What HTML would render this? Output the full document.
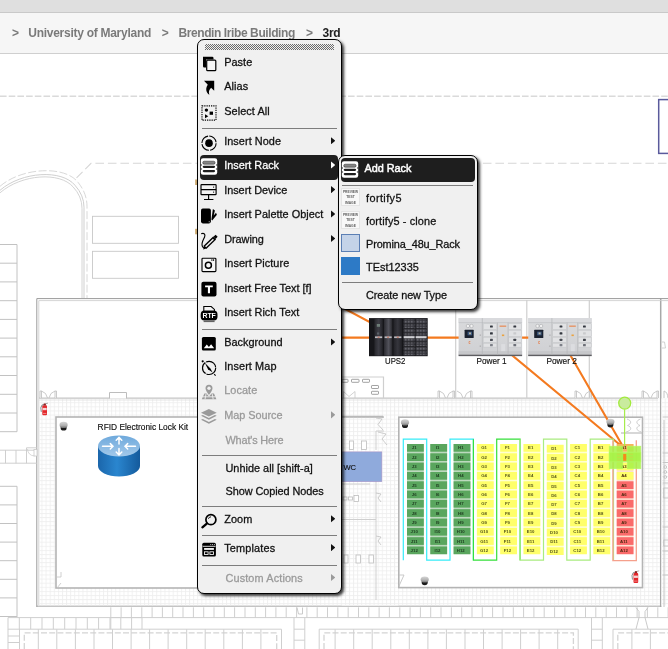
<!DOCTYPE html>
<html>
<head>
<meta charset="utf-8">
<title>3rd</title>
<style>
html,body{margin:0;padding:0;}
body{width:668px;height:649px;overflow:hidden;position:relative;background:#fff;font-family:"Liberation Sans",sans-serif;}
#topbar{position:absolute;left:0;top:0;width:668px;height:13px;background:#dfdfdf;border-bottom:1px solid #c9c9c9;box-sizing:border-box;}
#crumbs{position:absolute;left:0;top:13px;width:668px;height:41px;background:#f6f6f6;border-bottom:1px solid #cfcfcf;box-sizing:border-box;}
#crumbs{will-change:transform;}
#crumbs span{position:absolute;top:13.2px;font-weight:bold;font-size:12px;line-height:15px;color:#7a7a7a;white-space:nowrap;}
#crumbs span.cur{color:#222;}
#canvas{position:absolute;left:0;top:54px;width:668px;height:595px;will-change:transform;}
.menu{position:absolute;background:#f0f0f0;border:1px solid #000;border-radius:7px;box-sizing:border-box;box-shadow:2px 2px 3px rgba(0,0,0,0.78);font-size:10.9px;color:#111;will-change:transform;}
.mi{position:absolute;left:2px;right:3px;height:24.45px;border-radius:4px;}
.mi .t{position:absolute;left:23px;top:2.85px;line-height:14px;white-space:nowrap;-webkit-text-stroke:0.28px currentColor;}
.mi.dis{color:#9a9a9a;}
.mi.hl{background:#1e1e1e;color:#fff;}
.mi .ar{position:absolute;right:2.7px;top:5.9px;width:4.6px;height:7.6px;background:currentColor;clip-path:polygon(0 0,100% 50%,0 100%);}
.mi svg{position:absolute;left:0.45px;top:2.8px;width:18px;height:18px;overflow:visible;}
.sep{position:absolute;left:4px;right:4px;height:1px;background:#7d7d7d;}

.grip{position:absolute;left:7px;top:4px;width:129px;height:6px;background-image:linear-gradient(45deg,#4a4a4a 25%,transparent 25%,transparent 75%,#4a4a4a 75%),linear-gradient(45deg,#4a4a4a 25%,transparent 25%,transparent 75%,#4a4a4a 75%);background-size:2px 2px;background-position:0 0,1px 1px;opacity:0.8;}
.thumb{position:absolute;left:0.3px;top:0.6px;width:18.4px;height:18.2px;background:#f8f8f8;border:1px solid #e4e4e4;box-sizing:border-box;text-align:center;font-size:3.3px;line-height:5.5px;color:#606060;padding-top:0.6px;overflow:hidden;font-weight:bold;}
.thumb span{display:block;}
.sq{position:absolute;left:0.3px;top:0.6px;width:18.4px;height:18.2px;box-sizing:border-box;}

</style>
</head>
<body>
<div id="topbar"></div>
<div id="crumbs"><span style="left:11.9px;letter-spacing:-0.508px">&gt;</span><span style="left:28.3px;letter-spacing:-0.273px">University of Maryland</span><span style="left:161.7px;letter-spacing:-0.208px">&gt;</span><span style="left:178.4px;letter-spacing:-0.401px">Brendin Iribe Building</span><span style="left:306.1px;letter-spacing:-0.508px">&gt;</span><span class=cur style="left:322.6px;letter-spacing:-0.291px">3rd</span></div>
<svg id="canvas" viewBox="0 54 668 595" font-family="Liberation Sans, sans-serif">
<defs>
<pattern id="grid" x="37.4" y="398.2" width="4.1" height="4.1" patternUnits="userSpaceOnUse"><path d="M0.5,0 V4.1 M0,0.5 H4.1" stroke="#eeeeee" stroke-width="0.8" fill="none"/></pattern>
<linearGradient id="rb" x1="0" x2="1" y1="0" y2="0"><stop offset="0" stop-color="#1b66ab"/><stop offset="0.45" stop-color="#2a86cf"/><stop offset="1" stop-color="#145a9c"/></linearGradient>
<linearGradient id="rt" x1="0" x2="0" y1="0" y2="1"><stop offset="0" stop-color="#6ea9dc"/><stop offset="1" stop-color="#a3c9ea"/></linearGradient>
<linearGradient id="ups" x1="0" x2="0" y1="0" y2="1"><stop offset="0" stop-color="#15151b"/><stop offset="0.5" stop-color="#34343c"/><stop offset="1" stop-color="#1c1c22"/></linearGradient>
<linearGradient id="pw" x1="0" x2="0" y1="0" y2="1"><stop offset="0" stop-color="#d9dadc"/><stop offset="1" stop-color="#cfd0d3"/></linearGradient>
<linearGradient id="camg" x1="0" x2="0" y1="0" y2="1"><stop offset="0" stop-color="#d6d6d6"/><stop offset="0.6" stop-color="#b0b0b0"/><stop offset="1" stop-color="#6e6e6e"/></linearGradient>
<linearGradient id="u1" x1="0" x2="1" y1="0" y2="0"><stop offset="0" stop-color="#26262b"/><stop offset="0.5" stop-color="#3d3d45"/><stop offset="1" stop-color="#222227"/></linearGradient>
<linearGradient id="u2" x1="0" x2="1" y1="0" y2="0"><stop offset="0" stop-color="#2a2a30"/><stop offset="0.55" stop-color="#52525b"/><stop offset="1" stop-color="#27272c"/></linearGradient>
<linearGradient id="u3" x1="0" x2="1" y1="0" y2="0"><stop offset="0" stop-color="#222227"/><stop offset="0.5" stop-color="#36363d"/><stop offset="1" stop-color="#1f1f24"/></linearGradient>
<pattern id="mesh" x="0" y="0" width="1.5" height="1.5" patternUnits="userSpaceOnUse"><rect x="0" y="0" width="0.8" height="0.8" fill="#76767e"/></pattern>
</defs>
<rect x="0" y="54" width="668" height="595" fill="#fff"/>
<path d="M0,96.2 H668" stroke="#dadada" stroke-width="1.6" stroke-dasharray="6.6,2.1" fill="none"/>
<path d="M666.5,163.3 H91 L75,179.5" stroke="#d6d6d6" stroke-width="1.1" stroke-dasharray="8.6,3.9" fill="none"/>
<rect x="658.7" y="99.6" width="14" height="53.8" fill="#fff" stroke="#5a5a9c" stroke-width="1.5"/>
<path d="M0,190.3 C22,171.3 62,169.3 75,185.3 Q84,195.3 84,207.3 V298" fill="none" stroke="#c9c9c9" stroke-width="0.9"/>
<path d="M0,192.8 C22,173.8 60,171.8 73,186.8 Q82,196.3 82,208.3 V298" fill="none" stroke="#cfcfcf" stroke-width="0.9"/>
<path d="M0,186.3 C22,167.3 65,165.3 78,182.3 Q87,193.3 87,206.3 V298" fill="none" stroke="#d4d4d4" stroke-width="0.9" stroke-dasharray="8,2.5"/>
<rect x="92.5" y="216.3" width="86" height="27" fill="none" stroke="#c8c8c8" stroke-width="0.9"/>
<rect x="92.5" y="251.3" width="86" height="27" fill="none" stroke="#c8c8c8" stroke-width="0.9"/>
<path d="M17,244.5 V431.7 M0,244.5 H17 M0,263.2 H17 M0,281.9 H17 M0,300.7 H17 M0,319.4 H17 M0,338.1 H17 M0,356.8 H17 M0,375.5 H17 M0,394.3 H17 M0,413.0 H17 M0,431.7 H17" fill="none" stroke="#c2c2c2" stroke-width="1"/>
<path d="M17,486.3 V617 M0,486.3 H17 M0,504.9 H17 M0,523.5 H17 M0,542.1 H17 M0,560.7 H17 M0,579.3 H17 M0,597.9 H17 M0,616.5 H17" fill="none" stroke="#c2c2c2" stroke-width="1"/>
<rect x="36.8" y="298.6" width="623.9" height="307.6" fill="#fff"/>
<path d="M36.8,606.2 H660.7" fill="none" stroke="#c4c4c4" stroke-width="1.6"/>
<path d="M660.7,607 V298.6" fill="none" stroke="#a8a8a8" stroke-width="1.5"/>
<path d="M36.8,607 V298.6 H668" fill="none" stroke="#9a9a9a" stroke-width="1"/>
<path d="M660,300.6 H668 M662,342 h2.5 l1,6 h-3.5" fill="none" stroke="#cdcdcd" stroke-width="0.9"/>
<path d="M38.8,605 V300.6 H660" fill="none" stroke="#d0d0d0" stroke-width="0.9"/>
<rect x="39.5" y="398.6" width="620.4" height="206.8" fill="url(#grid)"/>
<path d="M39,398.2 H658" stroke="#c6c6c6" stroke-width="1.2" fill="none"/>
<path d="M39,400 H658" stroke="#e0e0e0" stroke-width="0.8" fill="none"/>
<path d="M455.7,300 V398 M526.8,300 V398 M589.3,300 V398" stroke="#cfcfcf" stroke-width="1.2" fill="none"/>
<path d="M109.5,398.5 V392.5 H126.5 V398.5" stroke="#bdbdbd" stroke-width="1" fill="#fff"/>
<path d="M342,377 H383.5 V398" stroke="#cfcfcf" stroke-width="1.2" fill="none"/>
<g fill="#fff" stroke="#8c8c8c" stroke-width="0.8"><rect x="342" y="379.3" width="6" height="3" rx="0.6"/><rect x="351.5" y="379.3" width="7.5" height="3" rx="0.6"/><rect x="362.5" y="379.3" width="7" height="3" rx="0.6"/><rect x="371.5" y="385.5" width="7" height="3" rx="0.6"/><rect x="371.5" y="391.3" width="7" height="3" rx="0.6"/></g>
<path d="M343.5,398 V391.5 L349,396.5 L355,391.5 V398" stroke="#c8c8c8" stroke-width="0.8" fill="none"/>
<path d="M40,398 v-7 h1.5 v7 M41.5,391 q5,1.5 6,7 M56.5,398 v-7 h-1.5 v7 M55,391 q-5,1.5 -6,7" stroke="#bdbdbd" stroke-width="0.8" fill="#fff"/>
<path d="M438,398 v-7 h1.5 v7 M439.5,391 q5,1.5 6,7 M454.5,398 v-7 h-1.5 v7 M453,391 q-5,1.5 -6,7" stroke="#bdbdbd" stroke-width="0.8" fill="#fff"/>
<path d="M575,398 v-7 h1.5 v7 M576.5,391 q5,1.5 6,7 M591.5,398 v-7 h-1.5 v7 M590,391 q-5,1.5 -6,7" stroke="#bdbdbd" stroke-width="0.8" fill="#fff"/>
<path d="M642,398 v-7 h1.5 v7 M643.5,391 q5,1.5 6,7 M658.5,398 v-7 h-1.5 v7 M657,391 q-5,1.5 -6,7" stroke="#bdbdbd" stroke-width="0.8" fill="#fff"/>
<path d="M472,398 v-7 h-1.5 v7 M470.5,391 q-5,1.5 -6,7 M457,391 q5,1.5 6,7" stroke="#bdbdbd" stroke-width="0.8" fill="none"/>
<rect x="56" y="417" width="327" height="171" fill="#fff" stroke="#b4b4b4" stroke-width="1.6"/>
<path d="M57,577 h4 v-5 M57,588 L61,583" stroke="#c4c4c4" stroke-width="0.8" fill="none"/>
<rect x="342" y="417.9" width="56" height="187.5" fill="#fff"/>
<rect x="342" y="417.9" width="56" height="187.5" fill="url(#grid)"/>
<path d="M342,416.6 H383" stroke="#b9b9b9" stroke-width="1.5" fill="none"/>
<path d="M376,431 V450 M376,431 H384 M342,453.5 H370 M342,484 H370 M342,519.5 H376 M376,470 V600" stroke="#cfcfcf" stroke-width="1" fill="none"/>
<rect x="340" y="451.9" width="41.8" height="29.7" fill="#8faadc" stroke="#a592c6" stroke-width="0.6"/>
<text x="343.4" y="469.6" font-size="8.1" fill="#111" stroke="#111" stroke-width="0.15" textLength="12.6" lengthAdjust="spacingAndGlyphs">WC</text>
<path d="M376,418 l6,1 l-4,5.5 l5,5.5 M378,432 l8,2 l-4,5 l5,6 M376,493 l5,1 l-3,4 l3,4 M376,536 l5,1 l-3,4 l3,4" stroke="#c2c2c2" stroke-width="0.8" fill="none"/>
<g fill="#fff" stroke="#bdbdbd" stroke-width="0.8"><rect x="349.5" y="441" width="4" height="8.5"/><rect x="361.5" y="441" width="5" height="8.5"/><rect x="343" y="497" width="4" height="3"/><rect x="348.5" y="497" width="4" height="3"/><rect x="354" y="495.5" width="4.5" height="6"/><rect x="344" y="555" width="4" height="8"/><rect x="356" y="555" width="4.5" height="8"/><rect x="369" y="555" width="4.5" height="8"/></g>
<rect x="398.8" y="417.2" width="243.7" height="170.4" fill="#fff" stroke="#b4b4b4" stroke-width="1.6"/>
<path d="M399,575 h5 l-5,11" stroke="#c4c4c4" stroke-width="0.9" fill="none"/>
<path d="M621,433 H642" stroke="#c2c2c2" stroke-width="1.3" fill="none"/>
<path d="M627,419 c4.5,1.5 5,4.5 0.5,6.5 c4.5,1.5 4.5,5 -1.5,6.5 M640.5,419 c-4.5,1.5 -5,4.5 -0.5,6.5 c-4.5,1.5 -4.5,5 1.5,6.5" stroke="#c8c8c8" stroke-width="0.9" fill="none"/>
<rect x="661.5" y="398.6" width="8" height="207" fill="#fff"/><rect x="661.5" y="398.6" width="8" height="207" fill="url(#grid)"/>
<path d="M664,420 V607 M662.6,417 h6 M662.6,453 h6 M662.6,462.5 h6 M662.6,483 h6 M662.6,527 h6 M662.6,551 h6 M662.6,575 h6 M664,391 v7 M664,391 q3.5,1 4,7" stroke="#c6c6c6" stroke-width="1" fill="none"/>
<g fill="none" stroke="#b8b8b8" stroke-width="0.7"><circle cx="665.3" cy="467" r="1.4"/><circle cx="665.3" cy="472" r="1.4"/><circle cx="665.3" cy="477" r="1.4"/><rect x="663.8" y="488" width="4.5" height="10"/><rect x="663.8" y="540" width="4.5" height="6"/></g>
<path d="M8,617.6 H142 M8,629.2 H281.5 M319.2,629.2 H578.2 M613,629.2 H668 M110.8,607.3 V629.2 M110.8,617.6 H668 M120.8,617.6 V629.2 M131.6,617.6 V629.2 M142,617.6 V629.2 M8.0,617.6 V629.2 M19.3,617.6 V629.2 M30.7,617.6 V629.2 M42.0,617.6 V629.2 M53.3,617.6 V629.2 M64.7,617.6 V629.2 M76.0,617.6 V629.2 M87.3,617.6 V629.2 M98.6,617.6 V629.2 M110.0,617.6 V629.2 M121.1,607.3 V617.6 M131.4,607.3 V617.6 M141.8,607.3 V617.6 M152.1,607.3 V617.6 M162.4,607.3 V617.6 M172.7,607.3 V617.6 M183.0,607.3 V617.6 M193.4,607.3 V617.6 M203.7,607.3 V617.6 M214.0,607.3 V617.6 M224.3,607.3 V617.6 M234.6,607.3 V617.6 M245.0,607.3 V617.6 M255.3,607.3 V617.6 M265.6,607.3 V617.6 M275.9,607.3 V617.6 M286.2,607.3 V617.6 M296.6,607.3 V617.6 M306.9,607.3 V617.6 M317.2,607.3 V617.6 M327.5,607.3 V617.6 M337.8,607.3 V617.6 M348.2,607.3 V617.6 M358.5,607.3 V617.6 M368.8,607.3 V617.6 M379.1,607.3 V617.6 M389.4,607.3 V617.6 M399.8,607.3 V617.6 M410.1,607.3 V617.6 M420.4,607.3 V617.6 M430.7,607.3 V617.6 M441.0,607.3 V617.6 M451.4,607.3 V617.6 M461.7,607.3 V617.6 M472.0,607.3 V617.6 M482.3,607.3 V617.6 M492.6,607.3 V617.6 M503.0,607.3 V617.6 M513.3,607.3 V617.6 M523.6,607.3 V617.6 M533.9,607.3 V617.6 M544.2,607.3 V617.6 M554.6,607.3 V617.6 M564.9,607.3 V617.6 M575.2,607.3 V617.6 M585.5,607.3 V617.6 M595.8,607.3 V617.6 M606.2,607.3 V617.6 M616.5,607.3 V617.6 M626.8,607.3 V617.6 M637.1,607.3 V617.6 M647.4,607.3 V617.6 M657.8,607.3 V617.6 M668.1,607.3 V617.6" fill="none" stroke="#cfcfcf" stroke-width="1"/>
<path d="M8,629 V649 M19.5,629 V649 M8,636 H19.5 M8,642.5 H19.5" fill="none" stroke="#cfcfcf" stroke-width="1"/>
<path d="M19.5,649 V629.2 M281.5,629.2 V649" fill="none" stroke="#cfcfcf" stroke-width="1"/>
<path d="M24.3,649 V632.9 H276.7 V649" fill="none" stroke="#d4d4d4" stroke-width="1.3" stroke-dasharray="6,2.2"/>
<path d="M319.2,649 V629.2 M578.2,629.2 V649" fill="none" stroke="#cfcfcf" stroke-width="1"/>
<path d="M324.0,649 V632.9 H573.4000000000001 V649" fill="none" stroke="#d4d4d4" stroke-width="1.3" stroke-dasharray="6,2.2"/>
<path d="M613,649 V629.2 M680,629.2 V649" fill="none" stroke="#cfcfcf" stroke-width="1"/>
<path d="M617.8,649 V632.9 H675.2 V649" fill="none" stroke="#d4d4d4" stroke-width="1.3" stroke-dasharray="6,2.2"/>
<path d="M38.3,629.2 V649 M56.8,629.2 V649 M75.4,629.2 V649 M94.0,629.2 V649 M112.5,629.2 V649 M131.1,629.2 V649 M149.6,629.2 V649 M168.1,629.2 V649 M186.7,629.2 V649 M205.2,629.2 V649 M223.8,629.2 V649 M242.4,629.2 V649 M260.9,629.2 V649 M335.1,629.2 V649 M353.7,629.2 V649 M372.2,629.2 V649 M390.8,629.2 V649 M409.3,629.2 V649 M427.9,629.2 V649 M446.4,629.2 V649 M465.0,629.2 V649 M483.5,629.2 V649 M502.1,629.2 V649 M520.6,629.2 V649 M539.1,629.2 V649 M557.7,629.2 V649 M631.9,629.2 V649 M650.4,629.2 V649" fill="none" stroke="#cfcfcf" stroke-width="1"/>
<path d="M294,617.6 V649 M304.8,617.6 V649 M294,629.2 H304.8 M294,640.2 H304.8" fill="none" stroke="#cfcfcf" stroke-width="1"/>
<path d="M591.5,617.6 V649 M602.3,617.6 V649 M591.5,629.2 H602.3 M591.5,640.2 H602.3" fill="none" stroke="#cfcfcf" stroke-width="1"/>
<path d="M297,607.5 l1.5,6.5 h4 v-6.5 M636,607.5 l3,4 v6 l-3,11.5 M648,607.5 l-3,4 v6 l3,11.5" fill="none" stroke="#c4c4c4" stroke-width="0.9"/>
<path d="M0,450.2 H37 M0,463.2 H37 M5.5,450.2 V463.2 M16,450.2 V463.2 M26.5,447.8 V463.2 M26.5,447.8 H37" stroke="#cacaca" stroke-width="0.9" fill="none"/><path d="M27.5,449 q0.5,6.5 7,7" stroke="#cfcfcf" stroke-width="0.8" fill="none"/><rect x="34" y="449.5" width="3" height="6.5" fill="#fff" stroke="#c4c4c4" stroke-width="0.7"/>
<rect x="195.2" y="179.5" width="1.7" height="5.5" fill="#c9a262"/><rect x="195.2" y="228.8" width="1.7" height="5.5" fill="#c9a262"/>
<g transform="translate(44.6,410.3)"><rect x="-2.3" y="-5" width="4.7" height="10" rx="1.1" fill="#e3262a"/><rect x="-2" y="-2.4" width="4.1" height="2.3" fill="#f6d2d2"/><rect x="-1.7" y="2.6" width="3.5" height="1" fill="#f08a8a"/><path d="M0.6,-6.2 Q-3.6,-6.2 -3.8,-2.4 L-3.3,1.6" fill="none" stroke="#5a5a5a" stroke-width="0.7"/><rect x="-0.9" y="-6.8" width="2.2" height="1.9" fill="#8e2222"/><path d="M1.2,-6.6 L3.4,-7.2" stroke="#777" stroke-width="0.6"/></g>
<g transform="translate(635.8,578)"><rect x="-2.3" y="-5" width="4.7" height="10" rx="1.1" fill="#e3262a"/><rect x="-2" y="-2.4" width="4.1" height="2.3" fill="#f6d2d2"/><rect x="-1.7" y="2.6" width="3.5" height="1" fill="#f08a8a"/><path d="M0.6,-6.2 Q-3.6,-6.2 -3.8,-2.4 L-3.3,1.6" fill="none" stroke="#5a5a5a" stroke-width="0.7"/><rect x="-0.9" y="-6.8" width="2.2" height="1.9" fill="#8e2222"/><path d="M1.2,-6.6 L3.4,-7.2" stroke="#777" stroke-width="0.6"/></g>
<g><path d="M98,446 V466 A21,10.6 0 0 0 140,466 V446 Z" fill="url(#rb)"/><ellipse cx="119" cy="446" rx="21" ry="10.6" fill="url(#rt)"/><g stroke="#fff" stroke-width="1.5" fill="none" stroke-linecap="round"><path d="M102.5,446.3 H112.5 M110.3,443.6 L113,446.3 L110.3,449 M135.5,446.3 H125.5 M127.7,443.6 L125,446.3 L127.7,449 M119,444 V437.6 M116.2,440.3 L119,437.4 L121.8,440.3 M119,448.4 V454.8 M116.2,452 L119,455 L121.8,452"/></g></g>
<text x="97.6" y="429.8" font-size="8.3" fill="#111" textLength="90.6" lengthAdjust="spacingAndGlyphs" stroke="#111" stroke-width="0.15">RFID Electronic Lock Kit</text>
<g stroke="#f47a1f" stroke-width="2.1" fill="none"><path d="M336,337.6 H560 M330,300.9 L398.2,337.3 M490.5,337.3 L623.8,448 M560,337.3 L623.8,448"/></g>
<g transform="translate(63.6,426.2)"><ellipse cx="0" cy="1.7" rx="3" ry="2.7" fill="#1c1c1c"/><ellipse cx="0" cy="-1.3" rx="4.1" ry="3.1" fill="url(#camg)"/></g>
<g transform="translate(405,423.7)"><ellipse cx="0" cy="1.7" rx="3" ry="2.7" fill="#1c1c1c"/><ellipse cx="0" cy="-1.3" rx="4.1" ry="3.1" fill="url(#camg)"/></g>
<g transform="translate(610.4,423.1)"><ellipse cx="0" cy="1.7" rx="3" ry="2.7" fill="#1c1c1c"/><ellipse cx="0" cy="-1.3" rx="4.1" ry="3.1" fill="url(#camg)"/></g>
<g transform="translate(424.7,580.8)"><ellipse cx="0" cy="1.7" rx="3" ry="2.7" fill="#1c1c1c"/><ellipse cx="0" cy="-1.3" rx="4.1" ry="3.1" fill="url(#camg)"/></g>
<g>
<rect x="369" y="318.1" width="58.7" height="38.1" fill="#16161a"/>
<rect x="374.4" y="318.6" width="8.4" height="37" fill="url(#u1)"/>
<rect x="384.0" y="318.6" width="8.3" height="37" fill="url(#u2)"/>
<rect x="393.5" y="318.6" width="8.5" height="37" fill="url(#u3)"/>
<rect x="403.7" y="318.6" width="10.8" height="37" fill="#34343a"/>
<rect x="403.7" y="319.4" width="10.8" height="35.6" fill="url(#mesh)"/>
<rect x="403.7" y="323.5" width="10.8" height="0.8" fill="#1e1e22"/>
<rect x="403.7" y="328" width="10.8" height="0.8" fill="#1e1e22"/>
<rect x="403.7" y="332.5" width="10.8" height="0.8" fill="#1e1e22"/>
<rect x="403.7" y="341.5" width="10.8" height="0.8" fill="#1e1e22"/>
<rect x="403.7" y="346" width="10.8" height="0.8" fill="#1e1e22"/>
<rect x="403.7" y="350.5" width="10.8" height="0.8" fill="#1e1e22"/>
<rect x="403.7" y="336.2" width="10.8" height="2" fill="#cfcfd3"/>
<rect x="415.7" y="318.6" width="10.8" height="37" fill="#34343a"/>
<rect x="415.7" y="319.4" width="10.8" height="35.6" fill="url(#mesh)"/>
<rect x="415.7" y="323.5" width="10.8" height="0.8" fill="#1e1e22"/>
<rect x="415.7" y="328" width="10.8" height="0.8" fill="#1e1e22"/>
<rect x="415.7" y="332.5" width="10.8" height="0.8" fill="#1e1e22"/>
<rect x="415.7" y="341.5" width="10.8" height="0.8" fill="#1e1e22"/>
<rect x="415.7" y="346" width="10.8" height="0.8" fill="#1e1e22"/>
<rect x="415.7" y="350.5" width="10.8" height="0.8" fill="#1e1e22"/>
<rect x="415.7" y="336.2" width="10.8" height="2" fill="#cfcfd3"/>
<rect x="375.0" y="336.4" width="7.2" height="1.7" fill="#b9b9be"/>
<rect x="377.6" y="336.6" width="2" height="1.2" fill="#c07060"/>
<rect x="384.6" y="336.4" width="7.1" height="1.7" fill="#b9b9be"/>
<rect x="387.1" y="336.6" width="2" height="1.2" fill="#c07060"/>
<rect x="394.1" y="336.4" width="7.3" height="1.7" fill="#b9b9be"/>
<rect x="396.8" y="336.6" width="2" height="1.2" fill="#c07060"/>
<rect x="376.8" y="324" width="3.2" height="2.8" fill="#6e7d78"/>
<rect x="377" y="332.4" width="2.2" height="2.2" fill="#5a6068"/>
</g>
<text x="385" y="363.8" font-size="8.4" fill="#111" textLength="20.4" lengthAdjust="spacingAndGlyphs" stroke="#111" stroke-width="0.15">UPS2</text>
<g transform="translate(458.6,318.1)">
<rect x="0" y="0" width="63.5" height="38" fill="url(#pw)"/>
<rect x="0" y="0" width="63.5" height="4.4" fill="#d9dadd"/>
<path d="M0,4.5 H63.5" stroke="#b9babd" stroke-width="0.5"/>
<rect x="0" y="33" width="63.5" height="3.8" fill="#c6c7ca"/>
<rect x="0" y="36.6" width="63.5" height="1.4" fill="#5e5e62"/>
<path d="M23.7,0 V36.6 M38.9,4.5 V36.6 M49.5,4.5 V36.6" stroke="#b4b6b9" stroke-width="0.7"/>
<rect x="6" y="11.6" width="9.1" height="8.2" rx="0.5" fill="#1b2230"/><rect x="9" y="13.6" width="4.4" height="3.6" fill="#3d5a82"/><rect x="10.4" y="14.4" width="2" height="1.8" fill="#b9b4a0"/>
<circle cx="9.3" cy="7.9" r="1.7" fill="#f2f2f2" stroke="#9a9ca0" stroke-width="0.5"/><circle cx="12.9" cy="7.9" r="1.7" fill="#f2f2f2" stroke="#9a9ca0" stroke-width="0.5"/>
<path d="M11.8,23.4 h-1.4 v2 h1.4" stroke="#e8733a" stroke-width="0.6" fill="none"/>
<rect x="21" y="16.6" width="1.4" height="0.8" fill="#9a9a9a"/><rect x="21" y="27.6" width="1.4" height="0.8" fill="#9a9a9a"/>
<rect x="24.6" y="5.7" width="13.6" height="5.4" fill="#e1e2e4" stroke="#bfc1c4" stroke-width="0.4"/><rect x="31.4" y="7.3" width="2.8" height="2.2" rx="0.5" fill="#33373f"/>
<rect x="24.6" y="12.3" width="13.6" height="5.9" fill="#e1e2e4" stroke="#bfc1c4" stroke-width="0.4"/><rect x="31.4" y="14.2" width="2.8" height="2.2" rx="0.5" fill="#33373f"/>
<rect x="24.6" y="19.2" width="13.6" height="5.0" fill="#e1e2e4" stroke="#bfc1c4" stroke-width="0.4"/><rect x="31.4" y="20.6" width="2.8" height="2.2" rx="0.5" fill="#4a4d55"/>
<rect x="24.6" y="25.2" width="13.6" height="3.8" fill="#e1e2e4" stroke="#bfc1c4" stroke-width="0.4"/><rect x="31.4" y="26.0" width="2.8" height="2.2" rx="0.5" fill="#7d8088"/>
<rect x="50.2" y="5.7" width="12.8" height="5.4" fill="#e1e2e4" stroke="#bfc1c4" stroke-width="0.4"/><rect x="54.8" y="7.3" width="2.8" height="2.2" rx="0.5" fill="#33373f"/>
<rect x="50.2" y="12.3" width="12.8" height="5.9" fill="#e1e2e4" stroke="#bfc1c4" stroke-width="0.4"/><rect x="54.8" y="14.2" width="2.8" height="2.2" rx="0.5" fill="#c9cacc"/>
<rect x="50.2" y="19.2" width="12.8" height="5.0" fill="#e1e2e4" stroke="#bfc1c4" stroke-width="0.4"/><rect x="54.8" y="20.6" width="2.8" height="2.2" rx="0.5" fill="#3d4048"/>
<rect x="50.2" y="25.2" width="12.8" height="3.8" fill="#e1e2e4" stroke="#bfc1c4" stroke-width="0.4"/><rect x="54.8" y="26.0" width="2.8" height="2.2" rx="0.5" fill="#6d7078"/>
<rect x="41" y="7.5" width="6.6" height="1.1" fill="#ea8246"/><rect x="43.3" y="16.4" width="2.3" height="1.6" fill="#eca23c"/>
<rect x="42.6" y="26" width="4" height="7" fill="#dcdde0"/>
</g>
<g transform="translate(528.2,318.1)">
<rect x="0" y="0" width="63.5" height="38" fill="url(#pw)"/>
<rect x="0" y="0" width="63.5" height="4.4" fill="#d9dadd"/>
<path d="M0,4.5 H63.5" stroke="#b9babd" stroke-width="0.5"/>
<rect x="0" y="33" width="63.5" height="3.8" fill="#c6c7ca"/>
<rect x="0" y="36.6" width="63.5" height="1.4" fill="#5e5e62"/>
<path d="M23.7,0 V36.6 M38.9,4.5 V36.6 M49.5,4.5 V36.6" stroke="#b4b6b9" stroke-width="0.7"/>
<rect x="6" y="11.6" width="9.1" height="8.2" rx="0.5" fill="#1b2230"/><rect x="9" y="13.6" width="4.4" height="3.6" fill="#3d5a82"/><rect x="10.4" y="14.4" width="2" height="1.8" fill="#b9b4a0"/>
<circle cx="9.3" cy="7.9" r="1.7" fill="#f2f2f2" stroke="#9a9ca0" stroke-width="0.5"/><circle cx="12.9" cy="7.9" r="1.7" fill="#f2f2f2" stroke="#9a9ca0" stroke-width="0.5"/>
<path d="M11.8,23.4 h-1.4 v2 h1.4" stroke="#e8733a" stroke-width="0.6" fill="none"/>
<rect x="21" y="16.6" width="1.4" height="0.8" fill="#9a9a9a"/><rect x="21" y="27.6" width="1.4" height="0.8" fill="#9a9a9a"/>
<rect x="24.6" y="5.7" width="13.6" height="5.4" fill="#e1e2e4" stroke="#bfc1c4" stroke-width="0.4"/><rect x="31.4" y="7.3" width="2.8" height="2.2" rx="0.5" fill="#33373f"/>
<rect x="24.6" y="12.3" width="13.6" height="5.9" fill="#e1e2e4" stroke="#bfc1c4" stroke-width="0.4"/><rect x="31.4" y="14.2" width="2.8" height="2.2" rx="0.5" fill="#33373f"/>
<rect x="24.6" y="19.2" width="13.6" height="5.0" fill="#e1e2e4" stroke="#bfc1c4" stroke-width="0.4"/><rect x="31.4" y="20.6" width="2.8" height="2.2" rx="0.5" fill="#4a4d55"/>
<rect x="24.6" y="25.2" width="13.6" height="3.8" fill="#e1e2e4" stroke="#bfc1c4" stroke-width="0.4"/><rect x="31.4" y="26.0" width="2.8" height="2.2" rx="0.5" fill="#7d8088"/>
<rect x="50.2" y="5.7" width="12.8" height="5.4" fill="#e1e2e4" stroke="#bfc1c4" stroke-width="0.4"/><rect x="54.8" y="7.3" width="2.8" height="2.2" rx="0.5" fill="#33373f"/>
<rect x="50.2" y="12.3" width="12.8" height="5.9" fill="#e1e2e4" stroke="#bfc1c4" stroke-width="0.4"/><rect x="54.8" y="14.2" width="2.8" height="2.2" rx="0.5" fill="#c9cacc"/>
<rect x="50.2" y="19.2" width="12.8" height="5.0" fill="#e1e2e4" stroke="#bfc1c4" stroke-width="0.4"/><rect x="54.8" y="20.6" width="2.8" height="2.2" rx="0.5" fill="#3d4048"/>
<rect x="50.2" y="25.2" width="12.8" height="3.8" fill="#e1e2e4" stroke="#bfc1c4" stroke-width="0.4"/><rect x="54.8" y="26.0" width="2.8" height="2.2" rx="0.5" fill="#6d7078"/>
<rect x="41" y="7.5" width="6.6" height="1.1" fill="#ea8246"/><rect x="43.3" y="16.4" width="2.3" height="1.6" fill="#eca23c"/>
<rect x="42.6" y="26" width="4" height="7" fill="#dcdde0"/>
</g>
<text x="476.4" y="363.8" font-size="8.4" fill="#111" textLength="30.2" lengthAdjust="spacingAndGlyphs" stroke="#111" stroke-width="0.15">Power 1</text>
<text x="546.4" y="363.8" font-size="8.4" fill="#111" textLength="30.6" lengthAdjust="spacingAndGlyphs" stroke="#111" stroke-width="0.15">Power 2</text>
<rect x="407.0" y="444.0" width="16.8" height="110.2" fill="#bcd9be"/>
<rect x="407.0" y="444.0" width="16.8" height="7.7" fill="#5aa65e"/>
<text x="414.2" y="449.4" font-size="4.3" font-weight="bold" text-anchor="middle" fill="#1d3a1f">J1</text>
<rect x="407.0" y="453.3" width="16.8" height="7.7" fill="#5aa65e"/>
<text x="414.2" y="458.7" font-size="4.3" font-weight="bold" text-anchor="middle" fill="#1d3a1f">J2</text>
<rect x="407.0" y="462.6" width="16.8" height="7.7" fill="#5aa65e"/>
<text x="414.2" y="468.0" font-size="4.3" font-weight="bold" text-anchor="middle" fill="#1d3a1f">J3</text>
<rect x="407.0" y="472.0" width="16.8" height="7.7" fill="#5aa65e"/>
<text x="414.2" y="477.4" font-size="4.3" font-weight="bold" text-anchor="middle" fill="#1d3a1f">J4</text>
<rect x="407.0" y="481.3" width="16.8" height="7.7" fill="#5aa65e"/>
<text x="414.2" y="486.7" font-size="4.3" font-weight="bold" text-anchor="middle" fill="#1d3a1f">J5</text>
<rect x="407.0" y="490.6" width="16.8" height="7.7" fill="#5aa65e"/>
<text x="414.2" y="496.0" font-size="4.3" font-weight="bold" text-anchor="middle" fill="#1d3a1f">J6</text>
<rect x="407.0" y="499.9" width="16.8" height="7.7" fill="#5aa65e"/>
<text x="414.2" y="505.3" font-size="4.3" font-weight="bold" text-anchor="middle" fill="#1d3a1f">J7</text>
<rect x="407.0" y="509.2" width="16.8" height="7.7" fill="#5aa65e"/>
<text x="414.2" y="514.6" font-size="4.3" font-weight="bold" text-anchor="middle" fill="#1d3a1f">J8</text>
<rect x="407.0" y="518.6" width="16.8" height="7.7" fill="#5aa65e"/>
<text x="414.2" y="524.0" font-size="4.3" font-weight="bold" text-anchor="middle" fill="#1d3a1f">J9</text>
<rect x="407.0" y="527.9" width="16.8" height="7.7" fill="#5aa65e"/>
<text x="414.2" y="533.3" font-size="4.3" font-weight="bold" text-anchor="middle" fill="#1d3a1f">J10</text>
<rect x="407.0" y="537.2" width="16.8" height="7.7" fill="#5aa65e"/>
<text x="414.2" y="542.6" font-size="4.3" font-weight="bold" text-anchor="middle" fill="#1d3a1f">J11</text>
<rect x="407.0" y="546.5" width="16.8" height="7.7" fill="#5aa65e"/>
<text x="414.2" y="551.9" font-size="4.3" font-weight="bold" text-anchor="middle" fill="#1d3a1f">J12</text>
<rect x="430.3" y="444.0" width="16.8" height="110.2" fill="#bcd9be"/>
<rect x="430.3" y="444.0" width="16.8" height="7.7" fill="#5aa65e"/>
<text x="437.5" y="449.4" font-size="4.3" font-weight="bold" text-anchor="middle" fill="#1d3a1f">I1</text>
<rect x="430.3" y="453.3" width="16.8" height="7.7" fill="#5aa65e"/>
<text x="437.5" y="458.7" font-size="4.3" font-weight="bold" text-anchor="middle" fill="#1d3a1f">I2</text>
<rect x="430.3" y="462.6" width="16.8" height="7.7" fill="#5aa65e"/>
<text x="437.5" y="468.0" font-size="4.3" font-weight="bold" text-anchor="middle" fill="#1d3a1f">I3</text>
<rect x="430.3" y="472.0" width="16.8" height="7.7" fill="#5aa65e"/>
<text x="437.5" y="477.4" font-size="4.3" font-weight="bold" text-anchor="middle" fill="#1d3a1f">I4</text>
<rect x="430.3" y="481.3" width="16.8" height="7.7" fill="#5aa65e"/>
<text x="437.5" y="486.7" font-size="4.3" font-weight="bold" text-anchor="middle" fill="#1d3a1f">I5</text>
<rect x="430.3" y="490.6" width="16.8" height="7.7" fill="#5aa65e"/>
<text x="437.5" y="496.0" font-size="4.3" font-weight="bold" text-anchor="middle" fill="#1d3a1f">I6</text>
<rect x="430.3" y="499.9" width="16.8" height="7.7" fill="#5aa65e"/>
<text x="437.5" y="505.3" font-size="4.3" font-weight="bold" text-anchor="middle" fill="#1d3a1f">I7</text>
<rect x="430.3" y="509.2" width="16.8" height="7.7" fill="#5aa65e"/>
<text x="437.5" y="514.6" font-size="4.3" font-weight="bold" text-anchor="middle" fill="#1d3a1f">I8</text>
<rect x="430.3" y="518.6" width="16.8" height="7.7" fill="#5aa65e"/>
<text x="437.5" y="524.0" font-size="4.3" font-weight="bold" text-anchor="middle" fill="#1d3a1f">I9</text>
<rect x="430.3" y="527.9" width="16.8" height="7.7" fill="#5aa65e"/>
<text x="437.5" y="533.3" font-size="4.3" font-weight="bold" text-anchor="middle" fill="#1d3a1f">I10</text>
<rect x="430.3" y="537.2" width="16.8" height="7.7" fill="#5aa65e"/>
<text x="437.5" y="542.6" font-size="4.3" font-weight="bold" text-anchor="middle" fill="#1d3a1f">I11</text>
<rect x="430.3" y="546.5" width="16.8" height="7.7" fill="#5aa65e"/>
<text x="437.5" y="551.9" font-size="4.3" font-weight="bold" text-anchor="middle" fill="#1d3a1f">I12</text>
<rect x="453.6" y="444.0" width="16.8" height="110.2" fill="#bcd9be"/>
<rect x="453.6" y="444.0" width="16.8" height="7.7" fill="#5aa65e"/>
<text x="460.8" y="449.4" font-size="4.3" font-weight="bold" text-anchor="middle" fill="#1d3a1f">H1</text>
<rect x="453.6" y="453.3" width="16.8" height="7.7" fill="#5aa65e"/>
<text x="460.8" y="458.7" font-size="4.3" font-weight="bold" text-anchor="middle" fill="#1d3a1f">H2</text>
<rect x="453.6" y="462.6" width="16.8" height="7.7" fill="#5aa65e"/>
<text x="460.8" y="468.0" font-size="4.3" font-weight="bold" text-anchor="middle" fill="#1d3a1f">H3</text>
<rect x="453.6" y="472.0" width="16.8" height="7.7" fill="#5aa65e"/>
<text x="460.8" y="477.4" font-size="4.3" font-weight="bold" text-anchor="middle" fill="#1d3a1f">H4</text>
<rect x="453.6" y="481.3" width="16.8" height="7.7" fill="#5aa65e"/>
<text x="460.8" y="486.7" font-size="4.3" font-weight="bold" text-anchor="middle" fill="#1d3a1f">H5</text>
<rect x="453.6" y="490.6" width="16.8" height="7.7" fill="#5aa65e"/>
<text x="460.8" y="496.0" font-size="4.3" font-weight="bold" text-anchor="middle" fill="#1d3a1f">H6</text>
<rect x="453.6" y="499.9" width="16.8" height="7.7" fill="#5aa65e"/>
<text x="460.8" y="505.3" font-size="4.3" font-weight="bold" text-anchor="middle" fill="#1d3a1f">H7</text>
<rect x="453.6" y="509.2" width="16.8" height="7.7" fill="#5aa65e"/>
<text x="460.8" y="514.6" font-size="4.3" font-weight="bold" text-anchor="middle" fill="#1d3a1f">H8</text>
<rect x="453.6" y="518.6" width="16.8" height="7.7" fill="#5aa65e"/>
<text x="460.8" y="524.0" font-size="4.3" font-weight="bold" text-anchor="middle" fill="#1d3a1f">H9</text>
<rect x="453.6" y="527.9" width="16.8" height="7.7" fill="#5aa65e"/>
<text x="460.8" y="533.3" font-size="4.3" font-weight="bold" text-anchor="middle" fill="#1d3a1f">H10</text>
<rect x="453.6" y="537.2" width="16.8" height="7.7" fill="#5aa65e"/>
<text x="460.8" y="542.6" font-size="4.3" font-weight="bold" text-anchor="middle" fill="#1d3a1f">H11</text>
<rect x="453.6" y="546.5" width="16.8" height="7.7" fill="#5aa65e"/>
<text x="460.8" y="551.9" font-size="4.3" font-weight="bold" text-anchor="middle" fill="#1d3a1f">H12</text>
<rect x="476.9" y="444.0" width="16.8" height="110.2" fill="#ffffd0"/>
<rect x="476.9" y="444.0" width="16.8" height="7.7" fill="#ffff6a"/>
<text x="484.1" y="449.4" font-size="4.3" font-weight="bold" text-anchor="middle" fill="#55551a">G1</text>
<rect x="476.9" y="453.3" width="16.8" height="7.7" fill="#ffff6a"/>
<text x="484.1" y="458.7" font-size="4.3" font-weight="bold" text-anchor="middle" fill="#55551a">G2</text>
<rect x="476.9" y="462.6" width="16.8" height="7.7" fill="#ffff6a"/>
<text x="484.1" y="468.0" font-size="4.3" font-weight="bold" text-anchor="middle" fill="#55551a">G3</text>
<rect x="476.9" y="472.0" width="16.8" height="7.7" fill="#ffff6a"/>
<text x="484.1" y="477.4" font-size="4.3" font-weight="bold" text-anchor="middle" fill="#55551a">G4</text>
<rect x="476.9" y="481.3" width="16.8" height="7.7" fill="#ffff6a"/>
<text x="484.1" y="486.7" font-size="4.3" font-weight="bold" text-anchor="middle" fill="#55551a">G5</text>
<rect x="476.9" y="490.6" width="16.8" height="7.7" fill="#ffff6a"/>
<text x="484.1" y="496.0" font-size="4.3" font-weight="bold" text-anchor="middle" fill="#55551a">G6</text>
<rect x="476.9" y="499.9" width="16.8" height="7.7" fill="#ffff6a"/>
<text x="484.1" y="505.3" font-size="4.3" font-weight="bold" text-anchor="middle" fill="#55551a">G7</text>
<rect x="476.9" y="509.2" width="16.8" height="7.7" fill="#ffff6a"/>
<text x="484.1" y="514.6" font-size="4.3" font-weight="bold" text-anchor="middle" fill="#55551a">G8</text>
<rect x="476.9" y="518.6" width="16.8" height="7.7" fill="#ffff6a"/>
<text x="484.1" y="524.0" font-size="4.3" font-weight="bold" text-anchor="middle" fill="#55551a">G9</text>
<rect x="476.9" y="527.9" width="16.8" height="7.7" fill="#ffff6a"/>
<text x="484.1" y="533.3" font-size="4.3" font-weight="bold" text-anchor="middle" fill="#55551a">G10</text>
<rect x="476.9" y="537.2" width="16.8" height="7.7" fill="#ffff6a"/>
<text x="484.1" y="542.6" font-size="4.3" font-weight="bold" text-anchor="middle" fill="#55551a">G11</text>
<rect x="476.9" y="546.5" width="16.8" height="7.7" fill="#ffff6a"/>
<text x="484.1" y="551.9" font-size="4.3" font-weight="bold" text-anchor="middle" fill="#55551a">G12</text>
<rect x="500.2" y="444.0" width="16.8" height="110.2" fill="#ffffd0"/>
<rect x="500.2" y="444.0" width="16.8" height="7.7" fill="#ffff6a"/>
<text x="507.4" y="449.4" font-size="4.3" font-weight="bold" text-anchor="middle" fill="#55551a">F1</text>
<rect x="500.2" y="453.3" width="16.8" height="7.7" fill="#ffff6a"/>
<text x="507.4" y="458.7" font-size="4.3" font-weight="bold" text-anchor="middle" fill="#55551a">F2</text>
<rect x="500.2" y="462.6" width="16.8" height="7.7" fill="#ffff6a"/>
<text x="507.4" y="468.0" font-size="4.3" font-weight="bold" text-anchor="middle" fill="#55551a">F3</text>
<rect x="500.2" y="472.0" width="16.8" height="7.7" fill="#ffff6a"/>
<text x="507.4" y="477.4" font-size="4.3" font-weight="bold" text-anchor="middle" fill="#55551a">F4</text>
<rect x="500.2" y="481.3" width="16.8" height="7.7" fill="#ffff6a"/>
<text x="507.4" y="486.7" font-size="4.3" font-weight="bold" text-anchor="middle" fill="#55551a">F5</text>
<rect x="500.2" y="490.6" width="16.8" height="7.7" fill="#ffff6a"/>
<text x="507.4" y="496.0" font-size="4.3" font-weight="bold" text-anchor="middle" fill="#55551a">F6</text>
<rect x="500.2" y="499.9" width="16.8" height="7.7" fill="#ffff6a"/>
<text x="507.4" y="505.3" font-size="4.3" font-weight="bold" text-anchor="middle" fill="#55551a">F7</text>
<rect x="500.2" y="509.2" width="16.8" height="7.7" fill="#ffff6a"/>
<text x="507.4" y="514.6" font-size="4.3" font-weight="bold" text-anchor="middle" fill="#55551a">F8</text>
<rect x="500.2" y="518.6" width="16.8" height="7.7" fill="#ffff6a"/>
<text x="507.4" y="524.0" font-size="4.3" font-weight="bold" text-anchor="middle" fill="#55551a">F9</text>
<rect x="500.2" y="527.9" width="16.8" height="7.7" fill="#ffff6a"/>
<text x="507.4" y="533.3" font-size="4.3" font-weight="bold" text-anchor="middle" fill="#55551a">F10</text>
<rect x="500.2" y="537.2" width="16.8" height="7.7" fill="#ffff6a"/>
<text x="507.4" y="542.6" font-size="4.3" font-weight="bold" text-anchor="middle" fill="#55551a">F11</text>
<rect x="500.2" y="546.5" width="16.8" height="7.7" fill="#ffff6a"/>
<text x="507.4" y="551.9" font-size="4.3" font-weight="bold" text-anchor="middle" fill="#55551a">F12</text>
<rect x="523.5" y="444.0" width="16.8" height="110.2" fill="#ffffd0"/>
<rect x="523.5" y="444.0" width="16.8" height="7.7" fill="#ffff6a"/>
<text x="530.7" y="449.4" font-size="4.3" font-weight="bold" text-anchor="middle" fill="#55551a">E1</text>
<rect x="523.5" y="453.3" width="16.8" height="7.7" fill="#ffff6a"/>
<text x="530.7" y="458.7" font-size="4.3" font-weight="bold" text-anchor="middle" fill="#55551a">E2</text>
<rect x="523.5" y="462.6" width="16.8" height="7.7" fill="#ffff6a"/>
<text x="530.7" y="468.0" font-size="4.3" font-weight="bold" text-anchor="middle" fill="#55551a">E3</text>
<rect x="523.5" y="472.0" width="16.8" height="7.7" fill="#ffff6a"/>
<text x="530.7" y="477.4" font-size="4.3" font-weight="bold" text-anchor="middle" fill="#55551a">E4</text>
<rect x="523.5" y="481.3" width="16.8" height="7.7" fill="#ffff6a"/>
<text x="530.7" y="486.7" font-size="4.3" font-weight="bold" text-anchor="middle" fill="#55551a">E5</text>
<rect x="523.5" y="490.6" width="16.8" height="7.7" fill="#ffff6a"/>
<text x="530.7" y="496.0" font-size="4.3" font-weight="bold" text-anchor="middle" fill="#55551a">E6</text>
<rect x="523.5" y="499.9" width="16.8" height="7.7" fill="#ffff6a"/>
<text x="530.7" y="505.3" font-size="4.3" font-weight="bold" text-anchor="middle" fill="#55551a">E7</text>
<rect x="523.5" y="509.2" width="16.8" height="7.7" fill="#ffff6a"/>
<text x="530.7" y="514.6" font-size="4.3" font-weight="bold" text-anchor="middle" fill="#55551a">E8</text>
<rect x="523.5" y="518.6" width="16.8" height="7.7" fill="#ffff6a"/>
<text x="530.7" y="524.0" font-size="4.3" font-weight="bold" text-anchor="middle" fill="#55551a">E9</text>
<rect x="523.5" y="527.9" width="16.8" height="7.7" fill="#ffff6a"/>
<text x="530.7" y="533.3" font-size="4.3" font-weight="bold" text-anchor="middle" fill="#55551a">E10</text>
<rect x="523.5" y="537.2" width="16.8" height="7.7" fill="#ffff6a"/>
<text x="530.7" y="542.6" font-size="4.3" font-weight="bold" text-anchor="middle" fill="#55551a">E11</text>
<rect x="523.5" y="546.5" width="16.8" height="7.7" fill="#ffff6a"/>
<text x="530.7" y="551.9" font-size="4.3" font-weight="bold" text-anchor="middle" fill="#55551a">E12</text>
<rect x="546.8" y="444.8" width="16.8" height="110.2" fill="#ffffd0"/>
<rect x="546.8" y="444.8" width="16.8" height="7.7" fill="#ffff6a"/>
<text x="554.0" y="450.2" font-size="4.3" font-weight="bold" text-anchor="middle" fill="#55551a">D1</text>
<rect x="546.8" y="454.1" width="16.8" height="7.7" fill="#ffff6a"/>
<text x="554.0" y="459.5" font-size="4.3" font-weight="bold" text-anchor="middle" fill="#55551a">D2</text>
<rect x="546.8" y="463.4" width="16.8" height="7.7" fill="#ffff6a"/>
<text x="554.0" y="468.8" font-size="4.3" font-weight="bold" text-anchor="middle" fill="#55551a">D3</text>
<rect x="546.8" y="472.8" width="16.8" height="7.7" fill="#ffff6a"/>
<text x="554.0" y="478.2" font-size="4.3" font-weight="bold" text-anchor="middle" fill="#55551a">D4</text>
<rect x="546.8" y="482.1" width="16.8" height="7.7" fill="#ffff6a"/>
<text x="554.0" y="487.5" font-size="4.3" font-weight="bold" text-anchor="middle" fill="#55551a">D5</text>
<rect x="546.8" y="491.4" width="16.8" height="7.7" fill="#ffff6a"/>
<text x="554.0" y="496.8" font-size="4.3" font-weight="bold" text-anchor="middle" fill="#55551a">D6</text>
<rect x="546.8" y="500.7" width="16.8" height="7.7" fill="#ffff6a"/>
<text x="554.0" y="506.1" font-size="4.3" font-weight="bold" text-anchor="middle" fill="#55551a">D7</text>
<rect x="546.8" y="510.0" width="16.8" height="7.7" fill="#ffff6a"/>
<text x="554.0" y="515.4" font-size="4.3" font-weight="bold" text-anchor="middle" fill="#55551a">D8</text>
<rect x="546.8" y="519.4" width="16.8" height="7.7" fill="#ffff6a"/>
<text x="554.0" y="524.8" font-size="4.3" font-weight="bold" text-anchor="middle" fill="#55551a">D9</text>
<rect x="546.8" y="528.7" width="16.8" height="7.7" fill="#ffff6a"/>
<text x="554.0" y="534.1" font-size="4.3" font-weight="bold" text-anchor="middle" fill="#55551a">D10</text>
<rect x="546.8" y="538.0" width="16.8" height="7.7" fill="#ffff6a"/>
<text x="554.0" y="543.4" font-size="4.3" font-weight="bold" text-anchor="middle" fill="#55551a">D11</text>
<rect x="546.8" y="547.3" width="16.8" height="7.7" fill="#ffff6a"/>
<text x="554.0" y="552.7" font-size="4.3" font-weight="bold" text-anchor="middle" fill="#55551a">D12</text>
<rect x="570.1" y="444.0" width="16.8" height="110.2" fill="#ffffd0"/>
<rect x="570.1" y="444.0" width="16.8" height="7.7" fill="#ffff6a"/>
<text x="577.3" y="449.4" font-size="4.3" font-weight="bold" text-anchor="middle" fill="#55551a">C1</text>
<rect x="570.1" y="453.3" width="16.8" height="7.7" fill="#ffff6a"/>
<text x="577.3" y="458.7" font-size="4.3" font-weight="bold" text-anchor="middle" fill="#55551a">C2</text>
<rect x="570.1" y="462.6" width="16.8" height="7.7" fill="#ffff6a"/>
<text x="577.3" y="468.0" font-size="4.3" font-weight="bold" text-anchor="middle" fill="#55551a">C3</text>
<rect x="570.1" y="472.0" width="16.8" height="7.7" fill="#ffff6a"/>
<text x="577.3" y="477.4" font-size="4.3" font-weight="bold" text-anchor="middle" fill="#55551a">C4</text>
<rect x="570.1" y="481.3" width="16.8" height="7.7" fill="#ffff6a"/>
<text x="577.3" y="486.7" font-size="4.3" font-weight="bold" text-anchor="middle" fill="#55551a">C5</text>
<rect x="570.1" y="490.6" width="16.8" height="7.7" fill="#ffff6a"/>
<text x="577.3" y="496.0" font-size="4.3" font-weight="bold" text-anchor="middle" fill="#55551a">C6</text>
<rect x="570.1" y="499.9" width="16.8" height="7.7" fill="#ffff6a"/>
<text x="577.3" y="505.3" font-size="4.3" font-weight="bold" text-anchor="middle" fill="#55551a">C7</text>
<rect x="570.1" y="509.2" width="16.8" height="7.7" fill="#ffff6a"/>
<text x="577.3" y="514.6" font-size="4.3" font-weight="bold" text-anchor="middle" fill="#55551a">C8</text>
<rect x="570.1" y="518.6" width="16.8" height="7.7" fill="#ffff6a"/>
<text x="577.3" y="524.0" font-size="4.3" font-weight="bold" text-anchor="middle" fill="#55551a">C9</text>
<rect x="570.1" y="527.9" width="16.8" height="7.7" fill="#ffff6a"/>
<text x="577.3" y="533.3" font-size="4.3" font-weight="bold" text-anchor="middle" fill="#55551a">C10</text>
<rect x="570.1" y="537.2" width="16.8" height="7.7" fill="#ffff6a"/>
<text x="577.3" y="542.6" font-size="4.3" font-weight="bold" text-anchor="middle" fill="#55551a">C11</text>
<rect x="570.1" y="546.5" width="16.8" height="7.7" fill="#ffff6a"/>
<text x="577.3" y="551.9" font-size="4.3" font-weight="bold" text-anchor="middle" fill="#55551a">C12</text>
<rect x="593.4" y="444.0" width="16.8" height="110.2" fill="#ffffd0"/>
<rect x="593.4" y="444.0" width="16.8" height="7.7" fill="#ffff6a"/>
<text x="600.6" y="449.4" font-size="4.3" font-weight="bold" text-anchor="middle" fill="#55551a">B1</text>
<rect x="593.4" y="453.3" width="16.8" height="7.7" fill="#ffff6a"/>
<text x="600.6" y="458.7" font-size="4.3" font-weight="bold" text-anchor="middle" fill="#55551a">B2</text>
<rect x="593.4" y="462.6" width="16.8" height="7.7" fill="#ffff6a"/>
<text x="600.6" y="468.0" font-size="4.3" font-weight="bold" text-anchor="middle" fill="#55551a">B3</text>
<rect x="593.4" y="472.0" width="16.8" height="7.7" fill="#ffff6a"/>
<text x="600.6" y="477.4" font-size="4.3" font-weight="bold" text-anchor="middle" fill="#55551a">B4</text>
<rect x="593.4" y="481.3" width="16.8" height="7.7" fill="#ffff6a"/>
<text x="600.6" y="486.7" font-size="4.3" font-weight="bold" text-anchor="middle" fill="#55551a">B5</text>
<rect x="593.4" y="490.6" width="16.8" height="7.7" fill="#ffff6a"/>
<text x="600.6" y="496.0" font-size="4.3" font-weight="bold" text-anchor="middle" fill="#55551a">B6</text>
<rect x="593.4" y="499.9" width="16.8" height="7.7" fill="#ffff6a"/>
<text x="600.6" y="505.3" font-size="4.3" font-weight="bold" text-anchor="middle" fill="#55551a">B7</text>
<rect x="593.4" y="509.2" width="16.8" height="7.7" fill="#ffff6a"/>
<text x="600.6" y="514.6" font-size="4.3" font-weight="bold" text-anchor="middle" fill="#55551a">B8</text>
<rect x="593.4" y="518.6" width="16.8" height="7.7" fill="#ffff6a"/>
<text x="600.6" y="524.0" font-size="4.3" font-weight="bold" text-anchor="middle" fill="#55551a">B9</text>
<rect x="593.4" y="527.9" width="16.8" height="7.7" fill="#ffff6a"/>
<text x="600.6" y="533.3" font-size="4.3" font-weight="bold" text-anchor="middle" fill="#55551a">B10</text>
<rect x="593.4" y="537.2" width="16.8" height="7.7" fill="#ffff6a"/>
<text x="600.6" y="542.6" font-size="4.3" font-weight="bold" text-anchor="middle" fill="#55551a">B11</text>
<rect x="593.4" y="546.5" width="16.8" height="7.7" fill="#ffff6a"/>
<text x="600.6" y="551.9" font-size="4.3" font-weight="bold" text-anchor="middle" fill="#55551a">B12</text>
<rect x="616.7" y="444.0" width="16.8" height="110.2" fill="#fde0d0"/>
<rect x="616.7" y="444.0" width="16.8" height="7.7" fill="#f6b45c"/>
<text x="623.9" y="449.4" font-size="4.3" font-weight="bold" text-anchor="middle" fill="#4a2a10">A1</text>
<rect x="616.7" y="453.3" width="16.8" height="7.7" fill="#f6b45c"/>
<text x="623.9" y="458.7" font-size="4.3" font-weight="bold" text-anchor="middle" fill="#4a2a10">A2</text>
<rect x="616.7" y="462.6" width="16.8" height="7.7" fill="#ffff6a"/>
<text x="623.9" y="468.0" font-size="4.3" font-weight="bold" text-anchor="middle" fill="#4a2a10">A3</text>
<rect x="616.7" y="472.0" width="16.8" height="7.7" fill="#ffff6a"/>
<text x="623.9" y="477.4" font-size="4.3" font-weight="bold" text-anchor="middle" fill="#4a2a10">A4</text>
<rect x="616.7" y="481.3" width="16.8" height="7.7" fill="#fa6a6a"/>
<text x="623.9" y="486.7" font-size="4.3" font-weight="bold" text-anchor="middle" fill="#4a2a10">A5</text>
<rect x="616.7" y="490.6" width="16.8" height="7.7" fill="#fa6a6a"/>
<text x="623.9" y="496.0" font-size="4.3" font-weight="bold" text-anchor="middle" fill="#4a2a10">A6</text>
<rect x="616.7" y="499.9" width="16.8" height="7.7" fill="#fa6a6a"/>
<text x="623.9" y="505.3" font-size="4.3" font-weight="bold" text-anchor="middle" fill="#4a2a10">A7</text>
<rect x="616.7" y="509.2" width="16.8" height="7.7" fill="#fa6a6a"/>
<text x="623.9" y="514.6" font-size="4.3" font-weight="bold" text-anchor="middle" fill="#4a2a10">A8</text>
<rect x="616.7" y="518.6" width="16.8" height="7.7" fill="#fa6a6a"/>
<text x="623.9" y="524.0" font-size="4.3" font-weight="bold" text-anchor="middle" fill="#4a2a10">A9</text>
<rect x="616.7" y="527.9" width="16.8" height="7.7" fill="#fa6a6a"/>
<text x="623.9" y="533.3" font-size="4.3" font-weight="bold" text-anchor="middle" fill="#4a2a10">A10</text>
<rect x="616.7" y="537.2" width="16.8" height="7.7" fill="#fa6a6a"/>
<text x="623.9" y="542.6" font-size="4.3" font-weight="bold" text-anchor="middle" fill="#4a2a10">A11</text>
<rect x="616.7" y="546.5" width="16.8" height="7.7" fill="#fa6a6a"/>
<text x="623.9" y="551.9" font-size="4.3" font-weight="bold" text-anchor="middle" fill="#4a2a10">A12</text>
<path d="M403.3,560.2 L403.3,439.2 L426.7,439.2 L426.7,560.2 L450.0,560.2 L450.0,439.2 L473.4,439.2 L473.4,560.2" fill="none" stroke="#36ecf8" stroke-width="1.2"/>
<path d="M473.4,439.2 L473.4,560.2 L496.7,560.2 L496.7,439.2 L520.1,439.2 L520.1,560.2" fill="none" stroke="#35df3a" stroke-width="1.2"/>
<path d="M520.1,439.2 L520.1,560.2 L543.5,560.2 L543.5,439.2 L566.8,439.2 L566.8,560.2 L590.2,560.2 L590.2,439.2 L613.5,439.2 L613.5,560.2" fill="none" stroke="#a9ec80" stroke-width="1.2"/>
<path d="M612.9,440.2 L612.9,560.6 L636.3,560.6 L636.3,440.2" fill="none" stroke="#f5a08c" stroke-width="1.3"/>
<path d="M624.6,409.5 V446" stroke="#a6ec4c" stroke-width="1.2"/>
<circle cx="624.7" cy="403.1" r="6" fill="#c9eb9e" stroke="#a2ea3e" stroke-width="1.3"/>
<g fill="#a8f248" fill-opacity="0.86" stroke="#b6f862" stroke-opacity="0.9" stroke-width="0.7"><rect x="609.2" y="446.2" width="13.6" height="22.5"/><rect x="627.3" y="446.2" width="13.5" height="22.5"/><rect x="609.2" y="452.2" width="31.6" height="9.6"/></g>
<rect x="623.2" y="454" width="3" height="6.8" fill="#f58a1a"/>
<path d="M617,454.2 h4 M617,457.2 h4 M617,460.2 h4 M629,454.2 h4 M629,457.2 h4 M629,460.2 h4" stroke="#e6c04a" stroke-width="0.5" opacity="0.8"/>
</svg>
<div class="menu" style="left:197px;top:39px;width:145px;height:555px;">
<div class="grip"></div>
<div class="mi " style="top:12.05px"><svg viewBox="-9 -9 18 18"><g transform="translate(0.6,0)"><path d="M-6.6,-7.3 H2.6 Q3.9,-7.3 3.9,-6 V-4.4 H-3.5 V3.6 H-5.3 Q-6.6,3.6 -6.6,2.3 Z" fill="#000"/><rect x="-2.9" y="-3.8" width="9.1" height="10.5" rx="0.9" fill="#f6f6f6" stroke="#000" stroke-width="1.2"/></g></svg><span class="t" style="left:24.2px;letter-spacing:0.055px">Paste</span></div>
<div class="mi " style="top:36.50px"><svg viewBox="-9 -9 18 18"><path d="M-5,-7.25 H5.2 V2.7 L2.1,-0.3 C-0.2,1.9 -0.5,4.1 0.4,6.85 C-3.2,4.4 -3.7,0.1 -1.2,-3.3 Z" fill="#000"/></svg><span class="t" style="left:24.2px;letter-spacing:0.105px">Alias</span></div>
<div class="mi " style="top:61.00px"><svg viewBox="-9 -9 18 18"><rect x="-7" y="-7.2" width="14" height="14.3" fill="none" stroke="#000" stroke-width="1.15" stroke-dasharray="1.25,1"/><circle cx="-2.6" cy="-2.9" r="1.7" fill="#000"/><rect x="0.6" y="-1.4" width="3.4" height="3.2" fill="#000"/><path d="M-4,1.3 L-0.7,3.2 L-4,5.2 Z" fill="#000"/></svg><span class="t" style="left:24.2px;letter-spacing:0.081px">Select All</span></div>
<div class="mi " style="top:91.00px"><svg viewBox="-9 -9 18 18"><circle cx="0" cy="0.15" r="7.1" fill="none" stroke="#000" stroke-width="1.1" stroke-dasharray="10,1.15"/><circle cx="0" cy="0.15" r="3.8" fill="#000"/></svg><span class="t" style="left:24.2px;letter-spacing:0.050px">Insert Node</span><span class="ar"></span></div>
<div class="mi hl" style="top:115.35px"><svg viewBox="-9 -9 18 18"><rect x="-8.2" y="-8.7" width="16.4" height="16.5" rx="2.2" fill="#fff"/><g fill="#1e1e1e"><rect x="-6.3" y="-5.8" width="12.4" height="3" rx="1.5" fill="#858585" stroke="#1e1e1e" stroke-width="0.5"/><rect x="-6.3" y="-1.3" width="12.4" height="2.3" rx="1.15"/><rect x="-6.3" y="2.9" width="12.4" height="2.3" rx="1.15"/><path d="M-8.3,-2.9 L-6.7,-2 L-8.3,-1.1 Z M8.3,-2.9 L6.7,-2 L8.3,-1.1 Z M-8.3,1.1 L-6.7,2 L-8.3,2.9 Z M8.3,1.1 L6.7,2 L8.3,2.9 Z"/></g></svg><span class="t" style="left:24.2px;letter-spacing:-0.020px">Insert Rack</span><span class="ar"></span></div>
<div class="mi " style="top:139.90px"><svg viewBox="-9 -9 18 18"><rect x="-8" y="-7.4" width="15.1" height="10" rx="0.6" fill="#f4f4f4" stroke="#000" stroke-width="1.15"/><path d="M-8,-2.4 H7.1 M-0.4,2.6 V7 M-5,7.5 H4.4" stroke="#000" stroke-width="1.15" fill="none"/><circle cx="4.6" cy="-4.9" r="0.65"/><circle cx="4.6" cy="0.1" r="0.65"/></svg><span class="t" style="left:24.2px;letter-spacing:-0.035px">Insert Device</span><span class="ar"></span></div>
<div class="mi " style="top:164.35px"><svg viewBox="-9 -9 18 18"><rect x="-8" y="-7.4" width="9.9" height="14.8" rx="1.8" fill="#000"/><circle cx="0.2" cy="5.8" r="0.55" fill="#f0f0f0"/><path d="M2.4,3.6 L3.9,-7 L5.9,-5.6 L4.7,-0.4 L7,-3.3 L7.9,-1.3 L3.2,4.5 Z" fill="#000"/></svg><span class="t" style="left:24.2px;letter-spacing:0.024px">Insert Palette Object</span><span class="ar"></span></div>
<div class="mi " style="top:188.80px"><svg viewBox="-9 -9 18 18"><path d="M-7.8,-7.2 C-5,-8.6 -3.4,-6.4 -4.4,-4 C-5.6,-1.2 -8.2,2.4 -6.6,5.4 C-5.6,7.4 -3.6,7.2 -3,5.6" fill="none" stroke="#000" stroke-width="1.15"/><path d="M-4.2,6.6 L5.6,-3" stroke="#000" stroke-width="4.2" stroke-linecap="butt"/><path d="M-3.4,5.8 L4.4,-1.8" stroke="#f0f0f0" stroke-width="1.5"/><path d="M4.4,-4.2 L6.6,-6.2 L8.6,-4.2 L6.6,-2 Z" fill="#000"/><path d="M-5.8,8.4 L-5,5.2 L-2.8,7.4 Z" fill="#000"/></svg><span class="t" style="left:24.2px;letter-spacing:-0.048px">Drawing</span><span class="ar"></span></div>
<div class="mi " style="top:213.25px"><svg viewBox="-9 -9 18 18"><rect x="-7" y="-6.8" width="13.9" height="13.4" rx="0.9" fill="#f6f6f6" stroke="#000" stroke-width="1.15"/><circle cx="-0.6" cy="0.2" r="3" fill="none" stroke="#000" stroke-width="1.5"/><path d="M2.9,-5.8 V-4 M4.6,-5.8 V-4" stroke="#000" stroke-width="0.9"/></svg><span class="t" style="left:24.2px;letter-spacing:0.067px">Insert Picture</span></div>
<div class="mi " style="top:237.70px"><svg viewBox="-9 -9 18 18"><rect x="-7.6" y="-7.25" width="15.1" height="14.8" rx="2" fill="#000"/><path d="M-3.9,-3.6 H3.8 V-1.7 H1 V4.2 H-1.1 V-1.7 H-3.9 Z" fill="#fff"/></svg><span class="t" style="left:24.2px;letter-spacing:-0.014px">Insert Free Text [f]</span></div>
<div class="mi " style="top:262.15px"><svg viewBox="-9 -9 18 18"><path d="M-5.2,-7.5 H2.2 L5.4,-4.6 V-1 H-5.2 Z" fill="#f4f4f4" stroke="#000" stroke-width="1.1"/><path d="M-4.4,-3.4 H4.6 A3.9,3.9 0 0 1 8.5,0.5 V2.8 A3.6,3.6 0 0 1 4.9,6.4 H-4.7 A3.6,3.6 0 0 1 -8.3,2.8 V0.5 A3.9,3.9 0 0 1 -4.4,-3.4 Z" fill="#000"/><path d="M-5.4,7.6 H5.6" stroke="#555" stroke-width="1"/><text x="0.1" y="4.3" font-size="7" font-weight="bold" fill="#fff" text-anchor="middle" font-family="Liberation Sans, sans-serif" textLength="13.4" lengthAdjust="spacingAndGlyphs">RTF</text></svg><span class="t" style="left:24.2px;letter-spacing:0.015px">Insert Rich Text</span></div>
<div class="mi " style="top:292.35px"><svg viewBox="-9 -9 18 18"><rect x="-7.1" y="-7.1" width="13.9" height="13.6" rx="1.5" fill="#000"/><path d="M-5.2,4.2 L-2.2,0.4 L-0.1,3 L2.1,0.2 L5.2,4.2 Z" fill="#fff"/></svg><span class="t" style="left:24.2px;letter-spacing:0.023px">Background</span><span class="ar"></span></div>
<div class="mi " style="top:316.05px"><svg viewBox="-9 -9 18 18"><circle cx="0.1" cy="-0.1" r="6.6" fill="none" stroke="#000" stroke-width="1.15" stroke-dasharray="13,0.9"/><path d="M-4.2,-5.2 L1.4,0.4 L3.6,4.6 L-1,1.2 Z" fill="#000"/><circle cx="-6.3" cy="-6.7" r="1.1" fill="#000"/><path d="M5.2,6.2 L6.6,7.6" stroke="#000" stroke-width="1.1"/></svg><span class="t" style="left:24.2px;letter-spacing:0.091px">Insert Map</span></div>
<div class="mi dis" style="top:340.65px"><svg viewBox="-9 -9 18 18"><path d="M0,-7.2 A3.5,3.5 0 0 1 3.5,-3.7 C3.5,-1.3 0,3 0,3 C0,3 -3.5,-1.3 -3.5,-3.7 A3.5,3.5 0 0 1 0,-7.2 Z" fill="#9a9a9a"/><circle cx="0" cy="-3.8" r="1.7" fill="#f0f0f0"/><path d="M-4.6,1.4 L-7.2,7.3 H7.4 L5,1.4 H2.6 L0,4.6 L-2.6,1.4 Z" fill="#9a9a9a"/><path d="M-3,2 L-4,7.3 M3.2,2 L4.2,7.3 M-6.2,4.8 H6.6" stroke="#f0f0f0" stroke-width="0.9"/></svg><span class="t" style="left:24.2px;letter-spacing:0.070px">Locate</span></div>
<div class="mi dis" style="top:365.15px"><svg viewBox="-9 -9 18 18"><path d="M-0.1,-8 L7.7,-4.3 L-0.1,-0.5 L-8,-4.3 Z" fill="#9a9a9a"/><path d="M-6.2,-2.1 L-8,-1.2 L-0.1,2.7 L7.7,-1.2 L5.9,-2.1 L-0.1,0.9 Z" fill="#9a9a9a"/><path d="M-6.2,1.9 L-8,2.8 L-0.1,6.8 L7.7,2.8 L5.9,1.9 L-0.1,4.9 Z" fill="#9a9a9a"/></svg><span class="t" style="left:24.2px;letter-spacing:-0.037px">Map Source</span><span class="ar"></span></div>
<div class="mi dis" style="top:390.05px"><span class="t" style="left:25.5px;letter-spacing:-0.157px">What's Here</span></div>
<div class="mi " style="top:417.85px"><span class="t" style="left:25.5px;letter-spacing:0.008px">Unhide all [shift-a]</span></div>
<div class="mi " style="top:441.05px"><span class="t" style="left:25.5px;letter-spacing:-0.072px">Show Copied Nodes</span></div>
<div class="mi " style="top:469.05px"><svg viewBox="-9 -9 18 18"><circle cx="1.9" cy="-1.3" r="5" fill="none" stroke="#000" stroke-width="1.7"/><path d="M-2.2,2.6 L-6.6,6.3" stroke="#000" stroke-width="2.3" stroke-linecap="round"/><path d="M-0.6,-2.2 A2.8,2.8 0 0 1 2,-4.2" stroke="#000" stroke-width="0.9" fill="none"/></svg><span class="t" style="left:24.2px;letter-spacing:0.072px">Zoom</span><span class="ar"></span></div>
<div class="mi " style="top:497.90px"><svg viewBox="-9 -9 18 18"><g transform="translate(0.1,-0.5)"><rect x="-6.8" y="-6.7" width="13.6" height="13.6" rx="1.5" fill="#000"/><path d="M-6.4,-3.2 H6.4" stroke="#f0f0f0" stroke-width="0.9"/><rect x="-5" y="-1.5" width="9.8" height="1.9" fill="#f0f0f0"/><rect x="-4.6" y="2.3" width="3.6" height="2.7" fill="none" stroke="#f0f0f0" stroke-width="0.9"/><rect x="0.8" y="2.3" width="3.6" height="2.7" fill="none" stroke="#f0f0f0" stroke-width="0.9"/><path d="M1.2,-5 h0.9 M3,-5 h0.9 M4.8,-5 h0.9" stroke="#f0f0f0" stroke-width="0.8"/></g></svg><span class="t" style="left:24.2px;letter-spacing:0.163px">Templates</span><span class="ar"></span></div>
<div class="mi dis" style="top:527.75px"><span class="t" style="left:25.5px;letter-spacing:0.120px">Custom Actions</span><span class="ar"></span></div>
<div class="sep" style="top:88.2px"></div>
<div class="sep" style="top:289.2px"></div>
<div class="sep" style="top:415.2px"></div>
<div class="sep" style="top:466.1px"></div>
<div class="sep" style="top:494.9px"></div>
<div class="sep" style="top:525.0px"></div>
</div>
<div class="menu" style="left:338px;top:155.4px;width:140px;height:155px;">
<div class="mi hl" style="top:2.05px;left:2px;right:2px"><svg viewBox="-9 -9 18 18"><rect x="-8.2" y="-8.7" width="16.4" height="16.5" rx="2.2" fill="#fff"/><g fill="#1e1e1e"><rect x="-6.3" y="-5.8" width="12.4" height="3" rx="1.5" fill="#858585" stroke="#1e1e1e" stroke-width="0.5"/><rect x="-6.3" y="-1.3" width="12.4" height="2.3" rx="1.15"/><rect x="-6.3" y="2.9" width="12.4" height="2.3" rx="1.15"/><path d="M-8.3,-2.9 L-6.7,-2 L-8.3,-1.1 Z M8.3,-2.9 L6.7,-2 L8.3,-1.1 Z M-8.3,1.1 L-6.7,2 L-8.3,2.9 Z M8.3,1.1 L6.7,2 L8.3,2.9 Z"/></g></svg><span class="t" style="left:23.6px;top:2.9px;letter-spacing:-0.057px;-webkit-text-stroke:0.45px currentColor;">Add Rack</span></div>
<div class="mi " style="top:31.65px;left:2px;right:2px"><div class="thumb"><span>PREVIEW</span><span>TEST</span><span>IMAGE</span></div><span class="t" style="left:25.0px;top:3.5px;letter-spacing:0.399px;">fortify5</span></div>
<div class="mi " style="top:54.65px;left:2px;right:2px"><div class="thumb"><span>PREVIEW</span><span>TEST</span><span>IMAGE</span></div><span class="t" style="left:25.0px;top:3.5px;letter-spacing:0.121px;">fortify5 - clone</span></div>
<div class="mi " style="top:77.65px;left:2px;right:2px"><div class="sq" style="background:#c4d3e8;border:1px solid #5b7fb4"></div><span class="t" style="left:25.0px;top:3.5px;letter-spacing:-0.115px;">Promina_48u_Rack</span></div>
<div class="mi " style="top:100.65px;left:2px;right:2px"><div class="sq" style="background:#2d7ac6;border:1px solid #2d7ac6"></div><span class="t" style="left:25.0px;top:3.5px;letter-spacing:0.020px;">TEst12335</span></div>
<div class="mi " style="top:128.65px;left:2px;right:2px"><span class="t" style="left:25.0px;top:3.5px;letter-spacing:-0.080px;">Create new Type</span></div>
<div class="sep" style="top:28.9px;left:3.4px;right:3.6px"></div>
<div class="sep" style="top:125.5px;left:3.4px;right:3.6px"></div>
</div>
</body>
</html>
